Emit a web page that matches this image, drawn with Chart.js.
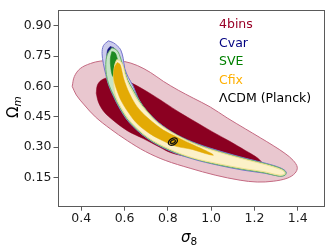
<!DOCTYPE html>
<html>
<head>
<meta charset="utf-8">
<script src="https://cdn.jsdelivr.net/npm/chart.js@4.4.0/dist/chart.umd.min.js"></script>
<style>
  html, body { margin: 0; padding: 0; background: #fff; }
  #wrap { width: 333px; height: 252px; }
</style>
</head>
<body>
<div id="wrap"><canvas id="chart" width="333" height="252"></canvas></div>
<script>
// axis ticks
const sigma8Ticks = [0.4, 0.6, 0.8, 1.0, 1.2, 1.4];
const omegaTicks = [0.15, 0.30, 0.45, 0.60, 0.75, 0.90];
const legendLabels = ['4bins', 'Cvar', 'SVE', 'Cfix', 'ΛCDM (Planck)'];

// contour outlines, [sigma8, Omega_m]
const bins4_2sig = [[0.358,0.600],[0.368,0.649],[0.395,0.688],[0.442,0.713],[0.488,0.725],[0.543,0.728],[0.599,0.723],[0.659,0.703],[0.719,0.669],[0.779,0.625],[0.848,0.581],[0.917,0.542],[0.996,0.498],[1.074,0.444],[1.158,0.390],[1.227,0.346],[1.287,0.307],[1.342,0.268],[1.379,0.234],[1.398,0.200],[1.388,0.171],[1.352,0.146],[1.287,0.131],[1.213,0.127],[1.134,0.136],[1.019,0.161],[0.903,0.195],[0.788,0.234],[0.696,0.278],[0.612,0.332],[0.534,0.390],[0.465,0.449],[0.414,0.508],[0.377,0.557]];
const bins4_1sig = [[0.469,0.566],[0.474,0.605],[0.492,0.630],[0.525,0.644],[0.571,0.642],[0.626,0.620],[0.709,0.571],[0.788,0.517],[0.857,0.469],[0.927,0.425],[1.005,0.376],[1.088,0.327],[1.158,0.283],[1.204,0.254],[1.227,0.234],[1.236,0.217],[1.218,0.205],[1.134,0.210],[0.996,0.229],[0.880,0.254],[0.811,0.273],[0.765,0.298],[0.686,0.342],[0.612,0.381],[0.534,0.444],[0.502,0.478],[0.479,0.522]];
const cvar_2sig = [[0.525,0.825],[0.548,0.816],[0.566,0.801],[0.582,0.781],[0.594,0.737],[0.601,0.688],[0.617,0.645],[0.640,0.601],[0.663,0.542],[0.698,0.485],[0.760,0.419],[0.843,0.360],[0.939,0.315],[1.050,0.277],[1.164,0.243],[1.255,0.219],[1.324,0.195],[1.347,0.175],[1.333,0.158],[1.315,0.156],[1.245,0.171],[1.152,0.185],[1.033,0.210],[0.915,0.241],[0.807,0.282],[0.705,0.342],[0.620,0.423],[0.576,0.493],[0.548,0.552],[0.525,0.610],[0.513,0.659],[0.502,0.713],[0.496,0.762],[0.502,0.801]];
const cvar_1sig = [[0.533,0.797],[0.548,0.792],[0.561,0.776],[0.570,0.742],[0.575,0.703],[0.570,0.649],[0.553,0.627],[0.537,0.645],[0.523,0.693],[0.518,0.742],[0.521,0.779]];
const sve_2sig = [[0.541,0.791],[0.562,0.781],[0.576,0.757],[0.589,0.713],[0.601,0.674],[0.615,0.630],[0.638,0.586],[0.666,0.532],[0.696,0.488],[0.758,0.417],[0.841,0.359],[0.937,0.312],[1.049,0.273],[1.163,0.240],[1.255,0.216],[1.324,0.193],[1.345,0.175],[1.342,0.161],[1.315,0.156],[1.245,0.173],[1.152,0.189],[1.034,0.212],[0.916,0.244],[0.807,0.285],[0.706,0.344],[0.622,0.425],[0.578,0.495],[0.550,0.554],[0.527,0.610],[0.516,0.659],[0.513,0.708],[0.520,0.757]];
const sve_1sig = [[0.541,0.772],[0.555,0.767],[0.564,0.747],[0.569,0.718],[0.562,0.674],[0.552,0.645],[0.543,0.654],[0.536,0.693],[0.534,0.737]];
const cfix_2sig = [[0.564,0.732],[0.580,0.725],[0.594,0.698],[0.601,0.664],[0.617,0.615],[0.636,0.576],[0.663,0.527],[0.696,0.483],[0.756,0.417],[0.839,0.359],[0.936,0.310],[1.047,0.271],[1.162,0.237],[1.255,0.212],[1.319,0.190],[1.338,0.178],[1.340,0.168],[1.319,0.161],[1.245,0.178],[1.153,0.193],[1.035,0.217],[0.917,0.246],[0.811,0.288],[0.710,0.346],[0.631,0.422],[0.585,0.493],[0.557,0.557],[0.550,0.615],[0.550,0.664],[0.555,0.708]];
const cfix_1sig = [[0.566,0.718],[0.578,0.710],[0.585,0.688],[0.594,0.645],[0.608,0.601],[0.622,0.566],[0.649,0.513],[0.682,0.469],[0.728,0.425],[0.779,0.384],[0.839,0.351],[0.904,0.317],[0.964,0.288],[1.005,0.266],[1.010,0.259],[0.973,0.268],[0.913,0.288],[0.834,0.305],[0.765,0.337],[0.710,0.371],[0.654,0.420],[0.613,0.478],[0.585,0.527],[0.566,0.576],[0.552,0.625],[0.549,0.664],[0.555,0.698]];
const lcdm_2sig = [[0.8437,0.3392],[0.8430,0.3260],[0.8310,0.3134],[0.8146,0.3087],[0.8035,0.3148],[0.8042,0.3280],[0.8162,0.3406],[0.8326,0.3453]];
const lcdm_1sig = [[0.8349,0.3338],[0.8342,0.3270],[0.8273,0.3202],[0.8183,0.3174],[0.8123,0.3202],[0.8130,0.3270],[0.8199,0.3338],[0.8289,0.3366]];

function toPoints(arr) {
  const pts = arr.map(p => ({ x: p[0], y: p[1] }));
  pts.push({ x: arr[0][0], y: arr[0][1] });
  return pts;
}

// bottom to top
const layers = [
  { data: bins4_2sig, bg: '#e9c7cf', line: '#c46a82', w: 1 },
  { data: bins4_1sig, bg: '#8b0021', line: '#8b0021', w: 0.5 },
  { data: cvar_2sig, bg: '#cbcbec', line: '#7474cc', w: 1 },
  { data: cvar_1sig, bg: '#14147e', line: '#14147e', w: 0.5 },
  { data: sve_2sig, bg: '#c6e4c6', line: '#68b068', w: 1 },
  { data: sve_1sig, bg: '#1e8a22', line: '#1e8a22', w: 0.5 },
  { data: cfix_2sig, bg: '#fcf1c8', line: '#f2e08e', w: 1 },
  { data: cfix_1sig, bg: '#e3aa05', line: '#e3aa05', w: 0.5 },
  { data: lcdm_2sig, bg: null, line: '#111', w: 1.3 },
  { data: lcdm_1sig, bg: null, line: '#111', w: 1.3 }
];

const datasets = layers.map((l, i) => ({
  data: toPoints(l.data),
  showLine: true,
  fill: l.bg ? 'shape' : false,
  backgroundColor: l.bg || 'transparent',
  borderColor: l.line,
  borderWidth: l.w,
  pointRadius: 0,
  tension: 0.35,
  order: layers.length - i
}));

const legendColors = ['#990026', '#000080', '#008000', '#ffb000', '#000000'];

const overlay = {
  id: 'overlay',
  afterDraw(chart) {
    const ctx = chart.ctx;
    const a = chart.chartArea;
    ctx.save();
    // frame
    ctx.strokeStyle = '#5a5a5a';
    ctx.lineWidth = 1;
    ctx.strokeRect(Math.round(a.left) + 0.5, Math.round(a.top) + 0.5,
      Math.round(a.right - a.left) - 1, Math.round(a.bottom - a.top) - 1);

    // legend text
    ctx.font = '12.5px "DejaVu Sans"';
    ctx.textAlign = 'left';
    ctx.textBaseline = 'middle';
    legendLabels.forEach((t, i) => {
      ctx.fillStyle = legendColors[i];
      ctx.fillText(t, 219, 25 + i * 18.5);
    });

    // x title: sigma_8
    ctx.fillStyle = '#000';
    ctx.textBaseline = 'alphabetic';
    ctx.font = 'italic 15px "DejaVu Sans"';
    ctx.fillText('σ', 181, 241.5);
    ctx.font = '10.5px "DejaVu Sans"';
    ctx.fillText('8', 190.5, 245);

    // y title: Omega_m
    ctx.translate(18, 118);
    ctx.rotate(-Math.PI / 2);
    ctx.font = '15px "DejaVu Sans"';
    ctx.fillText('Ω', 0, 0);
    ctx.font = 'italic 10.5px "DejaVu Sans"';
    ctx.fillText('m', 11.5, 2.5);
    ctx.restore();
  }
};

new Chart(document.getElementById('chart'), {
  type: 'scatter',
  data: { datasets: datasets },
  options: {
    responsive: false,
    animation: false,
    devicePixelRatio: 1,
    layout: { padding: { left: 0, top: 7.5, right: 8.7, bottom: 0 } },
    plugins: { legend: { display: false }, tooltip: { enabled: false } },
    scales: {
      x: {
        type: 'linear',
        min: 0.29,
        max: 1.523,
        afterBuildTicks: s => { s.ticks = sigma8Ticks.map(v => ({ value: v })); },
        afterFit: s => { s.height = 45.3; },
        grid: { display: true, drawOnChartArea: false, tickLength: 4, color: '#5a5a5a' },
        border: { display: false },
        ticks: {
          color: '#1a1a1a',
          padding: 1,
          maxRotation: 0,
          autoSkip: false,
          font: { family: 'DejaVu Sans', size: 12.5 },
          callback: v => v.toFixed(1)
        }
      },
      y: {
        type: 'linear',
        min: 0.005,
        max: 0.98,
        afterBuildTicks: s => { s.ticks = omegaTicks.map(v => ({ value: v })); },
        afterFit: s => { s.width = 57.5; },
        grid: { display: true, drawOnChartArea: false, tickLength: 4, color: '#5a5a5a' },
        border: { display: false },
        ticks: {
          color: '#1a1a1a',
          padding: 2,
          autoSkip: false,
          font: { family: 'DejaVu Sans', size: 12.5 },
          callback: v => v.toFixed(2)
        }
      }
    }
  },
  plugins: [overlay]
});
</script>
</body>
</html>
